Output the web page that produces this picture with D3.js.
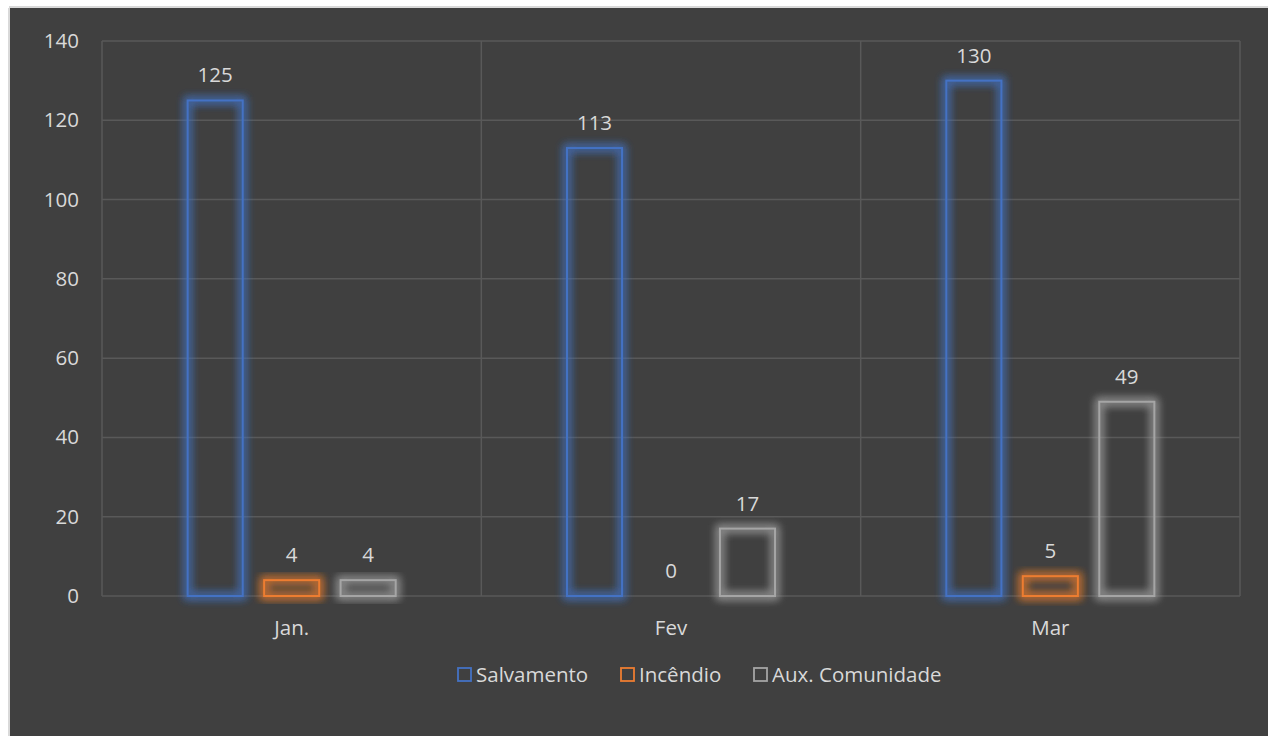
<!DOCTYPE html>
<html>
<head>
<meta charset="utf-8">
<script src="https://cdn.jsdelivr.net/npm/d3@7"></script>
<style>
  html, body { margin: 0; padding: 0; background: #ffffff; }
  svg { display: block; }
  text { font-family: "Open Sans", "Noto Sans", sans-serif; }
</style>
</head>
<body>
<svg id="chart" width="1268" height="736"></svg>
<script>
// Monthly occurrences by type
const months = ["Jan.", "Fev", "Mar"];
const seriesNames = ["Salvamento", "Incêndio", "Aux. Comunidade"];
const salvamento = [125, 113, 130];
const incendio = [4, 0, 5];
const auxComunidade = [4, 17, 49];
const yTicks = [0, 20, 40, 60, 80, 100, 120, 140];

const seriesValues = [salvamento, incendio, auxComunidade];
const colors = ["#4472C4", "#ED7D31", "#A5A5A5"];
const textColor = "#d9d9d9";
const fontSize = "20.5px";

const svg = d3.select("#chart");
const W = 1268, H = 736;

// Chart panel
svg.append("rect").attr("x", 10).attr("y", 8).attr("width", W - 10).attr("height", H - 8)
  .attr("fill", "#404040");
svg.append("line").attr("x1", 9).attr("x2", 9).attr("y1", 8).attr("y2", H)
  .attr("stroke", "#d9d9d9").attr("stroke-width", 2);
svg.append("line").attr("x1", 9).attr("x2", W).attr("y1", 7).attr("y2", 7)
  .attr("stroke", "#d9d9d9").attr("stroke-width", 2);

const plot = { left: 102, right: 1240, top: 41, bottom: 596 };

const x = d3.scaleBand().domain(months).range([plot.left, plot.right]).paddingInner(0).paddingOuter(0);
const xs = d3.scaleBand().domain(seriesNames).range([0, x.bandwidth()]).paddingInner(0.28).paddingOuter(1.12);
const y = d3.scaleLinear().domain([0, 140]).range([plot.bottom, plot.top]);

// Glow filters for bar outlines
const defs = svg.append("defs");
colors.forEach((c, i) => {
  const f = defs.append("filter").attr("id", "glow" + i)
    .attr("x", "-50%").attr("y", "-50%").attr("width", "200%").attr("height", "200%");
  f.append("feGaussianBlur").attr("in", "SourceGraphic").attr("stdDeviation", 4.5).attr("result", "b");
  const m = f.append("feMerge");
  m.append("feMergeNode").attr("in", "b");
  m.append("feMergeNode").attr("in", "b");
});

// Horizontal gridlines
svg.append("g")
  .selectAll("line").data(yTicks).join("line")
  .attr("x1", plot.left).attr("x2", plot.right)
  .attr("y1", d => y(d)).attr("y2", d => y(d))
  .attr("stroke", "#595959").attr("stroke-width", 1.5);

// Vertical category separators
const seps = months.map(m => x(m)).concat([plot.right]);
svg.append("g")
  .selectAll("line").data(seps).join("line")
  .attr("x1", d => d).attr("x2", d => d)
  .attr("y1", plot.top).attr("y2", plot.bottom)
  .attr("stroke", "#595959").attr("stroke-width", 1.5);

// Y axis labels
const yAxis = d3.axisLeft(y).tickValues(yTicks).tickSize(0).tickPadding(23);
const ya = svg.append("g").attr("transform", `translate(${plot.left},0)`).call(yAxis);
ya.select(".domain").remove();
ya.selectAll("text").attr("fill", textColor).style("font-size", fontSize)
  .style("font-family", "'Open Sans', sans-serif");

// X axis labels
const xAxis = d3.axisBottom(x).tickSize(0).tickPadding(24);
const xa = svg.append("g").attr("transform", `translate(0,${plot.bottom})`).call(xAxis);
xa.select(".domain").remove();
xa.selectAll("text").attr("fill", textColor).style("font-size", fontSize)
  .style("font-family", "'Open Sans', sans-serif");

// Bars
const barData = [];
months.forEach((m, mi) => {
  seriesNames.forEach((s, si) => {
    barData.push({ month: m, series: s, si, value: seriesValues[si][mi] });
  });
});

const bars = svg.append("g");
barData.forEach(d => {
  const bx = x(d.month) + xs(d.series);
  const bw = xs.bandwidth();
  const y0 = y(d.value), y1 = y(0);
  if (d.value > 0) {
    const g = bars.append("g");
    // soft glow around the outline
    g.append("rect")
      .attr("x", bx).attr("y", y0).attr("width", bw).attr("height", y1 - y0)
      .attr("fill", "none").attr("stroke", colors[d.si]).attr("stroke-opacity", 0.55)
      .attr("stroke-width", 7).attr("filter", `url(#glow${d.si})`);
    g.append("rect")
      .attr("x", bx).attr("y", y0).attr("width", bw).attr("height", y1 - y0)
      .attr("fill", "none").attr("stroke", colors[d.si]).attr("stroke-width", 2);
  }
  svg.append("text")
    .attr("x", bx + bw / 2).attr("y", y0 - 18)
    .attr("text-anchor", "middle")
    .attr("fill", textColor).style("font-size", fontSize)
    .text(d.value);
});

// Legend
const legendItems = [
  { name: seriesNames[0], color: colors[0], x: 457 },
  { name: seriesNames[1], color: colors[1], x: 620 },
  { name: seriesNames[2], color: colors[2], x: 753 }
];
const lg = svg.append("g");
legendItems.forEach(it => {
  lg.append("rect").attr("x", it.x + 1).attr("y", 668).attr("width", 13).attr("height", 13)
    .attr("fill", "none").attr("stroke", it.color).attr("stroke-width", 1.8);
  lg.append("text").attr("x", it.x + 19).attr("y", 682)
    .attr("fill", textColor).style("font-size", fontSize).text(it.name);
});
</script>
</body>
</html>
